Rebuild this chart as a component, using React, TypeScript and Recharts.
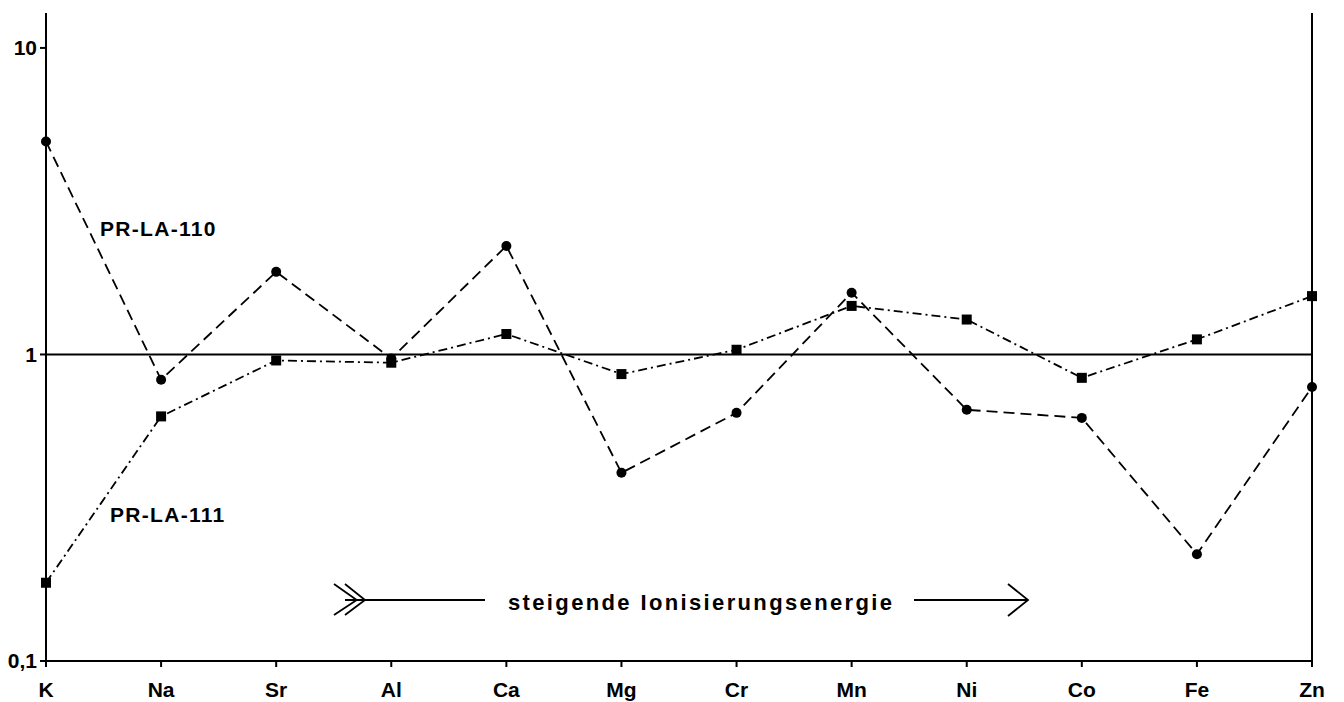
import React from 'react';
import { LineChart, Line, XAxis, YAxis, ReferenceLine } from 'recharts';

const elements = ['K', 'Na', 'Sr', 'Al', 'Ca', 'Mg', 'Cr', 'Mn', 'Ni', 'Co', 'Fe', 'Zn'];
const la110 = [4.95, 0.827, 1.86, 0.97, 2.26, 0.411, 0.645, 1.59, 0.66, 0.621, 0.223, 0.783];
const la111 = [0.18, 0.628, 0.956, 0.94, 1.166, 0.863, 1.036, 1.44, 1.3, 0.839, 1.12, 1.55];
const yTicks = [0.1, 1, 10];

const data = elements.map((e, i) => ({ element: e, la110: la110[i], la111: la111[i] }));

const FONT = '"Liberation Sans", Arial, Helvetica, sans-serif';

const SquareDot = (props: any) => {
  const { cx, cy, index } = props;
  if (cx == null || cy == null) return null;
  return <rect key={`sq-${index}`} x={cx - 5} y={cy - 5} width={10} height={10} fill="#000" />;
};

const fmtY = (v: number) => (v === 0.1 ? '0,1' : String(v));

export default function App() {
  const W = 1328;
  const H = 694;
  return (
    <div style={{ position: 'relative', width: W, height: H, background: '#fff' }}>
      <LineChart
        width={W}
        height={H}
        data={data}
        margin={{ top: 5, right: 24, left: 0, bottom: 5 }}
      >
        <XAxis
          dataKey="element"
          interval={0}
          axisLine={{ stroke: '#000', strokeWidth: 2 }}
          tickLine={{ stroke: '#000', strokeWidth: 2 }}
          tickSize={6}
          tickMargin={15}
          height={36}
          tick={{ fill: '#000', fontSize: 21, fontWeight: 700, fontFamily: FONT }}
        />
        <YAxis
          type="number"
          scale="log"
          domain={[0.1, 13]}
          allowDataOverflow
          ticks={yTicks}
          tickFormatter={fmtY}
          width={38}
          axisLine={{ stroke: '#000', strokeWidth: 2 }}
          tickLine={{ stroke: '#000', strokeWidth: 2 }}
          tickSize={6}
          tickMargin={3}
          tick={{ fill: '#000', fontSize: 21, fontWeight: 700, fontFamily: FONT }}
        />
        <ReferenceLine y={1} stroke="#000" strokeWidth={2} />
        <ReferenceLine x="Zn" stroke="#000" strokeWidth={2} />
        <Line
          dataKey="la110"
          stroke="#000"
          strokeWidth={1.8}
          strokeDasharray="11 6"
          dot={{ r: 5, fill: '#000', stroke: '#000', strokeWidth: 0 }}
          isAnimationActive={false}
        />
        <Line
          dataKey="la111"
          stroke="#000"
          strokeWidth={1.8}
          strokeDasharray="9 4 2 4"
          dot={SquareDot}
          isAnimationActive={false}
        />
      </LineChart>
      <svg
        width={W}
        height={H}
        style={{ position: 'absolute', left: 0, top: 0, pointerEvents: 'none' }}
      >
        <g fontFamily={FONT} fontWeight={700} fill="#000">
          <text x={92} y={227.5} fontSize={21} letterSpacing={1.3}>PR-LA-110</text>
          <text x={102} y={513.5} fontSize={21} letterSpacing={1.3}>PR-LA-111</text>
          <text x={500} y={601.5} fontSize={22} textLength={384} lengthAdjust="spacing">
            steigende Ionisierungsenergie
          </text>
        </g>
        <g stroke="#000" strokeWidth={1.8} fill="none">
          <polyline points="326,576 348.7,592 326,607" />
          <polyline points="337,576 357,592 337,607" />
          <line x1={337} y1={592} x2={477} y2={592} />
          <line x1={906} y1={592} x2={1020} y2={592} />
          <polyline points="1000,576 1020,592 1000,608" />
        </g>
      </svg>
    </div>
  );
}
